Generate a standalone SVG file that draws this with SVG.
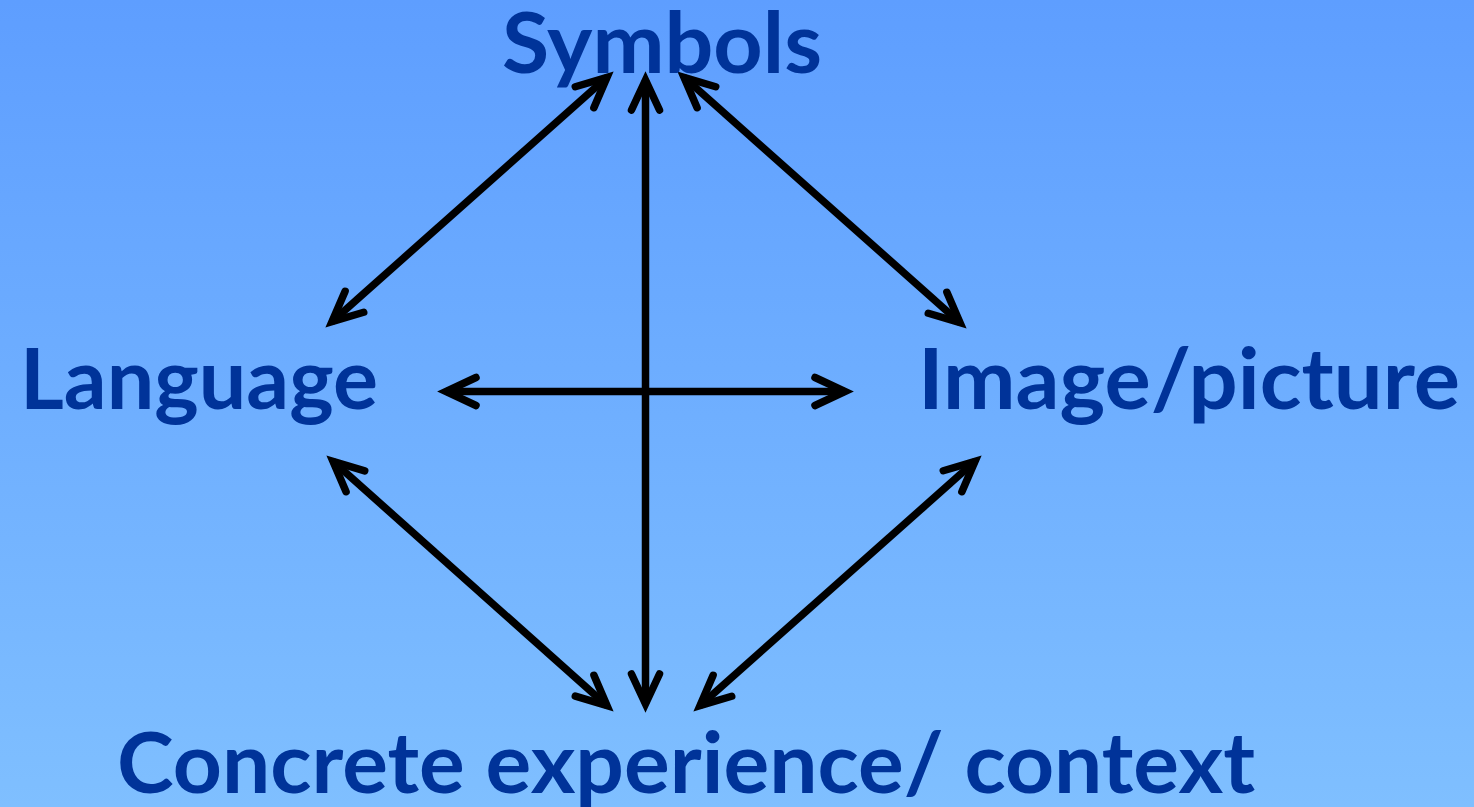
<svg xmlns="http://www.w3.org/2000/svg" width="1474" height="807" viewBox="0 0 1474 807">
<defs>
<linearGradient id="bg" x1="0" y1="0" x2="0" y2="1">
<stop offset="0" stop-color="#5e9eff"/>
<stop offset="1" stop-color="#7fbfff"/>
</linearGradient>
<marker id="ah" markerUnits="userSpaceOnUse" orient="auto-start-reverse" refX="0" refY="0" markerWidth="60" markerHeight="60" viewBox="-40 -25 60 50" overflow="visible">
<path d="M-30,-14 L0,0 L-30,14" fill="none" stroke="#000" stroke-width="7.5" stroke-linejoin="miter" stroke-miterlimit="10" stroke-linecap="round"/>
</marker>
<style>
.lbl{font-family:Lato,"Open Sans","Liberation Sans",sans-serif;font-weight:bold;font-size:84px;fill:#003399}
.con{stroke:#000;stroke-width:7.5;fill:none;marker-start:url(#ah);marker-end:url(#ah)}
</style>
</defs>
<rect x="0" y="0" width="1474" height="807" fill="url(#bg)"/>
<g id="connectors">
<line class="con" x1="645.5" y1="80" x2="645.5" y2="704"/>
<line class="con" x1="446" y1="391.5" x2="845" y2="391.5"/>
<line class="con" x1="607" y1="77.3" x2="332" y2="321.7"/>
<line class="con" x1="684" y1="77.3" x2="960" y2="322.7"/>
<line class="con" x1="333" y1="461.3" x2="607" y2="705.7"/>
<line class="con" x1="975" y1="461.3" x2="700" y2="705.7"/>
</g>
<g id="symbols"><text class="lbl" x="502" y="73" textLength="320" lengthAdjust="spacingAndGlyphs">Symbols</text></g>
<g id="language"><text class="lbl" x="20" y="409" textLength="358" lengthAdjust="spacingAndGlyphs">Language</text></g>
<g id="image"><text class="lbl" x="918" y="409" textLength="542" lengthAdjust="spacingAndGlyphs">Image/picture</text></g>
<g id="concrete"><text class="lbl" x="117" y="793" textLength="1138" lengthAdjust="spacingAndGlyphs">Concrete experience/ context</text></g>
</svg>
